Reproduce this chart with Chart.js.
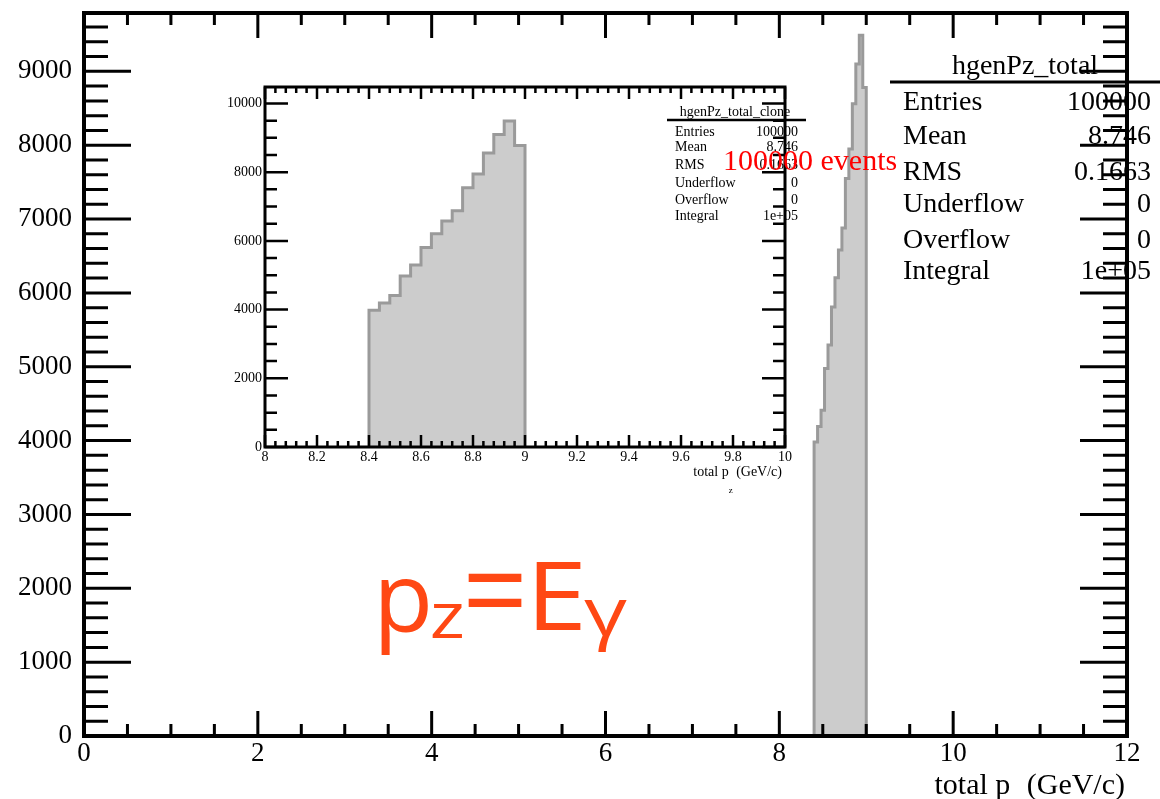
<!DOCTYPE html>
<html>
<head>
<meta charset="utf-8">
<script src="https://cdn.jsdelivr.net/npm/chart.js@4.4.0/dist/chart.umd.min.js"></script>
<style>
html, body { margin: 0; padding: 0; background: #fff; }
#wrap { position: relative; width: 1160px; height: 799px; overflow: hidden; background: #fff; }
#wrap canvas { position: absolute; left: 0; top: 0; }
</style>
</head>
<body>
<div id="wrap">
    <canvas id="mainChart" width="1160" height="799"></canvas>
    <canvas id="insetChart" width="1160" height="799"></canvas>
</div>
<script>
// histogram hgenPz_total (same bins in the clone)
const binEdges = [8.40, 8.44, 8.48, 8.52, 8.56, 8.60, 8.64, 8.68, 8.72, 8.76, 8.80, 8.84, 8.88, 8.92, 8.96, 9.00];
const binCounts = [3980, 4190, 4410, 4975, 5295, 5810, 6205, 6580, 6880, 7550, 7950, 8560, 9100, 9490, 8780];

const mainXTicks = [0, 2, 4, 6, 8, 10, 12];
const mainYTicks = [0, 1000, 2000, 3000, 4000, 5000, 6000, 7000, 8000, 9000];
const insetXTicks = [8, 8.2, 8.4, 8.6, 8.8, 9, 9.2, 9.4, 9.6, 9.8, 10];
const insetYTicks = [0, 2000, 4000, 6000, 8000, 10000];

const statLabels = ['Entries', 'Mean', 'RMS', 'Underflow', 'Overflow', 'Integral'];
const statValues = ['100000', '8.746', '0.1663', '0', '0', '1e+05'];

const SERIF = '"Liberation Serif", "Times New Roman", serif';

function histPoints(edges, counts) {
    const pts = [{ x: edges[0], y: 0 }];
    counts.forEach((c, i) => pts.push({ x: edges[i], y: c }));
    pts.push({ x: edges[edges.length - 1], y: counts[counts.length - 1] });
    pts.push({ x: edges[edges.length - 1], y: 0 });
    return pts;
}

// ROOT style frame: ticks inside on all four sides
const framePlugin = {
    id: 'rootFrame',
    afterDatasetsDraw(chart, args, o) {
        const { ctx, chartArea: a } = chart;
        const xs = chart.scales.x, ys = chart.scales.y;
        ctx.save();
        ctx.strokeStyle = '#000';
        ctx.lineWidth = o.tickWidth;
        ctx.beginPath();
        let n = Math.round((xs.max - xs.min) / o.xMinor);
        for (let i = 0; i <= n; i++) {
            const v = xs.min + i * o.xMinor;
            const major = o.xMajor.some(m => Math.abs(m - v) < 1e-6);
            const len = major ? o.xMajorLen : o.xMinorLen;
            const px = xs.getPixelForValue(v);
            ctx.moveTo(px, a.bottom); ctx.lineTo(px, a.bottom - len);
            ctx.moveTo(px, a.top); ctx.lineTo(px, a.top + len);
        }
        n = Math.floor((ys.max - ys.min) / o.yMinor + 1e-6);
        for (let i = 0; i <= n; i++) {
            const v = ys.min + i * o.yMinor;
            const major = o.yMajor.some(m => Math.abs(m - v) < 1e-6);
            const len = major ? o.yMajorLen : o.yMinorLen;
            const py = ys.getPixelForValue(v);
            ctx.moveTo(a.left, py); ctx.lineTo(a.left + len, py);
            ctx.moveTo(a.right, py); ctx.lineTo(a.right - len, py);
        }
        ctx.stroke();
        ctx.lineWidth = o.frameWidth;
        ctx.strokeRect(a.left, a.top, a.right - a.left, a.bottom - a.top);
        ctx.restore();
    }
};

function drawAxisTitle(ctx, rightX, baseline, size, subSize, subDrop) {
    ctx.save();
    ctx.fillStyle = '#000';
    ctx.textAlign = 'left';
    ctx.textBaseline = 'alphabetic';
    ctx.font = size + 'px ' + SERIF;
    const w1 = ctx.measureText('total p').width;
    const w3 = ctx.measureText(' (GeV/c)').width;
    ctx.font = subSize + 'px ' + SERIF;
    const w2 = ctx.measureText('z').width;
    let x = rightX - (w1 + w2 + w3);
    ctx.font = size + 'px ' + SERIF;
    ctx.fillText('total p', x, baseline);
    ctx.font = subSize + 'px ' + SERIF;
    ctx.fillText('z', x + w1, baseline + subDrop);
    ctx.font = size + 'px ' + SERIF;
    ctx.fillText(' (GeV/c)', x + w1 + w2, baseline);
    ctx.restore();
}

function drawStats(ctx, s) {
    ctx.save();
    ctx.fillStyle = '#000';
    ctx.textBaseline = 'alphabetic';
    ctx.font = s.size + 'px ' + SERIF;
    ctx.textAlign = 'center';
    ctx.fillText(s.title, s.titleX, s.titleY);
    ctx.strokeStyle = '#000';
    ctx.lineWidth = s.lineWidth;
    ctx.beginPath();
    ctx.moveTo(s.lineX0, s.lineY); ctx.lineTo(s.lineX1, s.lineY);
    ctx.stroke();
    statLabels.forEach((lab, i) => {
        ctx.textAlign = 'left';
        ctx.fillText(lab, s.labelX, s.rows[i]);
        ctx.textAlign = 'right';
        ctx.fillText(statValues[i], s.valueX, s.rows[i]);
    });
    ctx.restore();
}

// fit a glyph's ink box into a given box
function glyphBox(ctx, ch, family, left, top, w, h) {
    ctx.save();
    ctx.font = '100px ' + family;
    const m = ctx.measureText(ch);
    const iw = m.actualBoundingBoxLeft + m.actualBoundingBoxRight;
    const ih = m.actualBoundingBoxAscent + m.actualBoundingBoxDescent;
    ctx.translate(left, top);
    ctx.scale(w / iw, h / ih);
    ctx.textAlign = 'left';
    ctx.textBaseline = 'alphabetic';
    ctx.fillText(ch, m.actualBoundingBoxLeft, m.actualBoundingBoxAscent);
    ctx.restore();
}

const decorPlugin = {
    id: 'decor',
    afterDraw(chart, args, o) {
        const ctx = chart.ctx;
        if (o.stats) drawStats(ctx, o.stats);
        if (o.title) drawAxisTitle(ctx, ...o.title);
        if (o.overlay) {
            ctx.save();
            ctx.fillStyle = '#ff0000';
            ctx.font = '30px ' + SERIF;
            ctx.textAlign = 'left';
            ctx.textBaseline = 'alphabetic';
            ctx.fillText('100000 events', 723, 170);
            const fam = '"Open Sans", "DejaVu Sans", sans-serif';
            ctx.fillStyle = '#ff4814';
            glyphBox(ctx, 'p', fam, 381, 578, 47, 77);
            glyphBox(ctx, 'z', fam, 432, 603, 30, 35);
            glyphBox(ctx, '=', fam, 468, 573, 54, 34);
            glyphBox(ctx, 'E', fam, 536, 561, 45, 69);
            glyphBox(ctx, 'γ', fam, 584, 598, 43, 54);
            ctx.restore();
        }
    }
};

function axisCfg(ticksArr, min, max, fontSize, pad, fmt, fitFn) {
    return {
        type: 'linear', min: min, max: max,
        grid: { display: false, drawTicks: false },
        border: { display: false },
        afterBuildTicks: s => { s.ticks = ticksArr.map(v => ({ value: v })); },
        afterFit: fitFn,
        ticks: {
            autoSkip: false, maxRotation: 0, padding: pad, color: '#000',
            font: { family: SERIF, size: fontSize },
            callback: fmt
        }
    };
}

const histDataset = {
    data: histPoints(binEdges, binCounts),
    stepped: 'before',
    borderColor: '#9a9a9a',
    borderWidth: 3,
    backgroundColor: '#cccccc',
    fill: 'origin',
    pointRadius: 0,
    tension: 0
};

new Chart(document.getElementById('mainChart'), {
    type: 'line',
    data: { datasets: [histDataset] },
    plugins: [framePlugin, decorPlugin],
    options: {
        responsive: false, animation: false,
        layout: { padding: { left: 0, top: 13, right: 33, bottom: 0 } },
        scales: {
            x: axisCfg(mainXTicks, 0, 12, 27, 2, v => String(v),
                s => { s.height = 63; s.paddingLeft = 0; s.paddingRight = 0; }),
            y: axisCfg(mainYTicks, 0, 9790, 27, 12, v => String(v),
                s => { s.width = 84; s.paddingTop = 0; s.paddingBottom = 0; })
        },
        plugins: {
            legend: { display: false }, tooltip: { enabled: false },
            rootFrame: {
                xMajor: mainXTicks, xMinor: 0.5, xMajorLen: 25, xMinorLen: 12,
                yMajor: mainYTicks, yMinor: 200, yMajorLen: 47, yMinorLen: 24,
                tickWidth: 3, frameWidth: 4
            },
            decor: {
                stats: {
                    title: 'hgenPz_total', size: 28, titleX: 1025, titleY: 74,
                    lineX0: 890, lineX1: 1160, lineY: 82, lineWidth: 3,
                    labelX: 903, valueX: 1151, rows: [110, 144, 180, 212, 248, 279]
                },
                title: [1125, 794, 30, 20, 34]
            }
        }
    }
});

new Chart(document.getElementById('insetChart'), {
    type: 'line',
    data: { datasets: [Object.assign({}, histDataset, { data: histPoints(binEdges, binCounts) })] },
    plugins: [framePlugin, decorPlugin],
    options: {
        responsive: false, animation: false,
        layout: { padding: { left: 205, top: 87, right: 375, bottom: 312 } },
        scales: {
            x: axisCfg(insetXTicks, 8, 10, 14, 2, v => String(+Number(v).toFixed(1)),
                s => { s.height = 40; s.paddingLeft = 0; s.paddingRight = 0; }),
            y: axisCfg(insetYTicks, 0, 10480, 14, 3, v => String(v),
                s => { s.width = 60; s.paddingTop = 0; s.paddingBottom = 0; })
        },
        plugins: {
            legend: { display: false }, tooltip: { enabled: false },
            rootFrame: {
                xMajor: insetXTicks, xMinor: 0.04, xMajorLen: 12, xMinorLen: 6,
                yMajor: insetYTicks, yMinor: 500, yMajorLen: 23, yMinorLen: 12,
                tickWidth: 2.5, frameWidth: 3
            },
            decor: {
                stats: {
                    title: 'hgenPz_total_clone', size: 14, titleX: 735, titleY: 116,
                    lineX0: 667, lineX1: 806, lineY: 120, lineWidth: 2.5,
                    labelX: 675, valueX: 798, rows: [136, 151, 169, 187, 204, 220]
                },
                title: [782, 476, 14, 9, 17],
                overlay: true
            }
        }
    }
});
</script>
</body>
</html>
